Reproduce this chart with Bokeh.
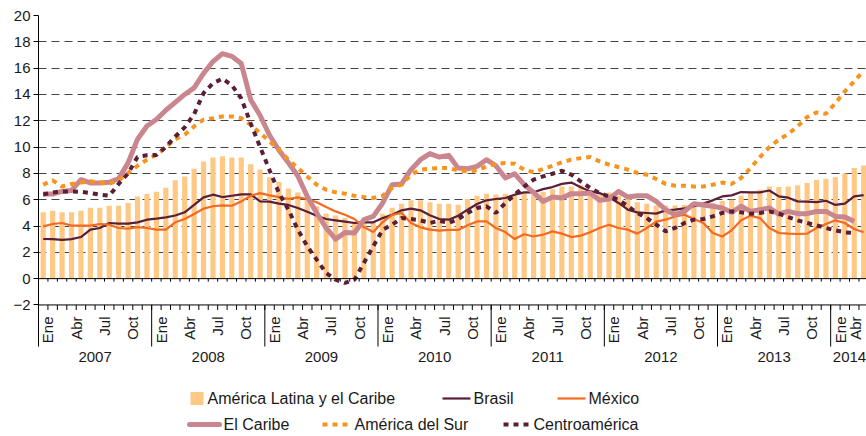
import math
from bokeh.plotting import figure
from bokeh.models import Range1d, FixedTicker, Span, ColumnDataSource
from bokeh.core.properties import value
from bokeh.embed import file_html
from bokeh.resources import INLINE

nan = float("nan")

years = ["2007", "2008", "2009", "2010", "2011", "2012", "2013", "2014"]
month_names = ["Ene", "Feb", "Mar", "Abr", "May", "Jun", "Jul", "Ago", "Sep", "Oct", "Nov", "Dic"]
shown_months = ["Ene", "Abr", "Jul", "Oct"]
n_months = 88  # Ene 2007 .. Abr 2014

america_latina = [
    5.04, 5.16, 5.04, 5.04, 5.16, 5.39, 5.39, 5.54, 5.54, 5.75, 6.25, 6.43,
    6.6, 6.9, 7.47, 7.77, 8.35, 8.9, 9.2, 9.3, 9.2, 9.2, 8.7, 8.3,
    7.7, 7.35, 6.85, 6.55, 6.0, 5.5, 4.95, 4.8, 4.6, 4.35, 4.2, 4.35,
    4.94, 5.39, 5.7, 5.95, 5.95, 5.8, 5.7, 5.7, 5.62, 6.05, 6.3, 6.46,
    6.4, 6.46, 6.3, 6.56, 6.4, 6.6, 6.8, 7.0, 7.0, 7.1, 6.7, 6.5,
    6.55, 6.3, 6.1, 5.8, 5.7, 5.55, 5.55, 5.55, 5.6, 5.8, 5.5, 5.75,
    5.9, 6.0, 6.3, 6.5, 6.76, 7.0, 6.96, 7.0, 7.1, 7.26, 7.5, 7.6,
    7.7, 8.0, 8.4, 8.6,
]
brasil = [
    3.01, 3.0, 2.94, 3.0, 3.16, 3.72, 3.85, 4.23, 4.18, 4.18, 4.28, 4.48,
    4.56, 4.66, 4.8, 5.04, 5.6, 6.18, 6.38, 6.2, 6.3, 6.4, 6.4, 5.87,
    5.85, 5.7, 5.6, 5.37, 5.09, 4.78, 4.53, 4.43, 4.33, 4.23, 4.28, 4.28,
    4.6, 4.86, 5.19, 5.32, 5.19, 4.81, 4.53, 4.48, 4.78, 5.24, 5.67, 5.95,
    6.05, 6.13, 6.38, 6.56, 6.56, 6.8, 6.96, 7.2, 7.3, 6.94, 6.63, 6.5,
    6.18, 5.75, 5.24, 5.04, 4.99, 4.94, 5.19, 5.24, 5.34, 5.5, 5.7, 5.95,
    6.25, 6.33, 6.58, 6.56, 6.56, 6.7, 6.25, 6.15, 5.87, 5.85, 5.82, 5.92,
    5.6, 5.7, 6.25, 6.35,
]
mexico = [
    3.97, 4.15, 4.23, 4.03, 4.03, 4.03, 4.15, 4.1, 3.85, 3.8, 3.92, 3.85,
    3.72, 3.72, 4.28, 4.53, 4.91, 5.32, 5.5, 5.57, 5.54, 5.87, 6.3, 6.5,
    6.33, 6.2, 6.05, 6.18, 6.05, 5.8, 5.44, 5.11, 4.86, 4.53, 3.92, 3.54,
    4.3, 4.84, 4.99, 4.23, 3.9, 3.72, 3.65, 3.7, 3.7, 4.05, 4.35, 4.35,
    3.85, 3.54, 3.01, 3.37, 3.2, 3.34, 3.59, 3.42, 3.16, 3.27, 3.52, 3.85,
    4.1, 3.85, 3.72, 3.42, 3.85, 4.33, 4.48, 4.73, 4.86, 4.53, 4.23, 3.47,
    3.2, 3.67, 4.43, 4.78, 4.6, 3.85, 3.47, 3.42, 3.39, 3.42, 3.85, 4.15,
    4.43, 4.23, 3.77, 3.52,
]
el_caribe = [
    6.43, 6.43, 6.63, 6.7, 7.52, 7.27, 7.27, 7.32, 7.6, 8.8, 10.6, 11.6,
    12.1, 12.8, 13.4, 14.0, 14.5, 15.6, 16.5, 17.1, 16.9, 16.35, 13.6, 12.4,
    10.9, 9.76, 8.8, 7.8, 6.25, 4.99, 3.85, 3.0, 3.5, 3.47, 4.48, 4.73,
    5.75, 7.14, 7.2, 8.28, 9.04, 9.5, 9.24, 9.37, 8.4, 8.35, 8.53, 9.04,
    8.58, 7.65, 7.97, 7.14, 6.56, 5.87, 6.2, 6.13, 6.46, 6.46, 6.5, 5.95,
    6.05, 6.63, 6.2, 6.3, 6.3, 5.87, 5.24, 4.86, 5.11, 5.7, 5.6, 5.5,
    5.37, 5.04, 5.5, 5.11, 5.24, 5.37, 4.91, 5.11, 4.94, 4.94, 5.11, 5.11,
    4.73, 4.68, 4.35, nan,
]
america_del_sur = [
    7.14, 7.47, 7.0, 7.2, 7.3, 7.4, 7.3, 7.2, 7.47, 8.03, 8.58, 9.04,
    9.4, 10.0, 10.6, 10.94, 11.57, 12.08, 12.2, 12.33, 12.33, 12.2, 11.7, 11.06,
    10.43, 9.8, 9.04, 8.4, 7.77, 7.14, 6.76, 6.56, 6.46, 6.3, 6.2, 6.13,
    6.3, 6.9, 7.14, 7.9, 8.28, 8.35, 8.4, 8.4, 8.23, 8.15, 8.23, 8.53,
    8.73, 8.78, 8.73, 8.28, 8.08, 8.33, 8.58, 8.84, 9.04, 9.16, 9.24, 8.91,
    8.66, 8.48, 8.28, 8.03, 7.9, 7.57, 7.2, 7.06, 7.06, 7.0, 7.0, 7.14,
    7.3, 7.2, 7.65, 8.4, 9.24, 10.0, 10.56, 11.0, 11.57, 12.28, 12.63, 12.53,
    13.34, 14.23, 15.0, 15.8,
]
centroamerica = [
    6.4, 6.55, 6.63, 6.63, 6.6, 6.5, 6.38, 6.3, 7.2, 8.0, 9.25, 9.38,
    9.4, 10.0, 10.8, 11.5, 12.5, 14.1, 14.85, 15.2, 14.7, 13.7, 11.8, 10.0,
    8.24, 6.5, 5.24, 3.72, 2.46, 1.44, 0.43, -0.08, -0.33, -0.08, 1.19, 2.46,
    3.72, 4.1, 4.6, 4.53, 4.43, 4.23, 4.4, 4.23, 4.53, 4.99, 5.37, 5.5,
    4.99, 5.75, 6.38, 7.0, 7.52, 7.77, 7.97, 8.2, 7.9, 7.39, 6.89, 6.5,
    6.25, 6.0, 5.5, 4.99, 4.6, 4.1, 3.6, 3.85, 4.23, 4.48, 4.53, 4.73,
    4.99, 5.11, 5.04, 4.94, 4.99, 5.11, 4.94, 4.68, 4.43, 4.23, 4.05, 3.85,
    3.67, 3.52, 3.47, nan,
]

y_ticks = list(range(-2, 21, 2))
grid_ticks = list(range(2, 21, 2))

# colours
C_BAR = "#FFC985"
C_BRASIL = "#5A1E38"
C_MEX = "#F36A21"
C_CAR = "#C9868F"
C_SUR = "#F7941E"
C_CEN = "#5A1E38"
C_TEXT = "#1a1a1a"
FONT = value("Liberation Sans")

X_END = 87.8
Y_START = -12.0
W, H = 866, 436
BL, BT = 38, 15
frame_w = W - BL
frame_h = H - BT
ppx = frame_w / X_END           # pixels per month
ppy = frame_h / (20 - Y_START)  # pixels per unit

def px_x(page_x):  # picture pixel -> data x (layout helper for legend/labels)
    return (page_x - BL) / ppx

def px_y(page_y):
    return 20 - (page_y - BT) / ppy

x_center = [i + 0.5 for i in range(n_months)]
src = ColumnDataSource(dict(x=x_center, alc=america_latina, bra=brasil, mex=mexico,
                            car=el_caribe, sur=america_del_sur, cen=centroamerica))

p = figure(width=W, height=H, output_backend="svg", toolbar_location=None,
           x_range=Range1d(0, X_END), y_range=Range1d(Y_START, 20),
           x_axis_location=None, min_border_left=BL, min_border_right=0,
           min_border_top=BT, min_border_bottom=0, outline_line_color=None,
           background_fill_color="white", border_fill_color="white")

# y axis
ax = p.yaxis[0]
ax.ticker = FixedTicker(ticks=y_ticks)
ax.bounds = (px_y(346), 20)
ax.axis_line_color = "black"
ax.major_tick_out = 5
ax.major_tick_in = 0
ax.minor_tick_line_color = None
ax.major_tick_line_color = "black"
ax.major_label_text_font_size = "15px"
ax.major_label_text_font = "Liberation Sans"
ax.major_label_text_color = C_TEXT
ax.major_label_standoff = 3

p.ygrid.ticker = FixedTicker(ticks=grid_ticks)
p.ygrid.grid_line_color = "#444444"
p.ygrid.grid_line_dash = "8 5"
p.ygrid.grid_line_width = 1
p.xgrid.visible = False

# bars
p.vbar(x="x", top="alc", bottom=0, width=0.55, source=src, fill_color=C_BAR, line_color=None)

# zero line with small ticks
p.add_layout(Span(location=0, dimension="width", line_color="black", line_width=1))
bnd = list(range(1, n_months + 1))
p.segment(x0=bnd, y0=[0] * len(bnd), x1=bnd, y1=[-3 / ppy] * len(bnd), line_color="black", line_width=1)

# bottom axis line at -2 with month ticks
p.segment(x0=[0], y0=[-2], x1=[X_END], y1=[-2], line_color="black", line_width=1)
p.segment(x0=bnd, y0=[-2] * len(bnd), x1=bnd, y1=[-2 - 5 / ppy] * len(bnd), line_color="black", line_width=1)

# year separators
ystarts = list(range(12, n_months, 12))
p.segment(x0=ystarts, y0=[-2] * len(ystarts), x1=ystarts, y1=[px_y(346)] * len(ystarts),
          line_color="black", line_width=1)

# month labels (centred on right boundary of month, kept inside the frame)
ml_x, ml_t = [], []
for i in range(n_months):
    name = month_names[i % 12]
    if name in shown_months:
        ml_x.append(min(i + 1, X_END - 1.15))
        ml_t.append(name)
p.text(x=ml_x, y=[px_y(316)] * len(ml_x), text=ml_t, angle=math.pi / 2,
       text_align="right", text_baseline="middle", text_font=FONT,
       text_font_size="15px", text_color=C_TEXT)

# year labels
yl_x = []
for k, _ in enumerate(years):
    s = 12 * k
    e = min(s + 12, n_months)
    yl_x.append((s + e) / 2)
p.text(x=yl_x, y=[px_y(356)] * len(years), text=years, text_align="center",
       text_baseline="middle", text_font=FONT, text_font_size="15px", text_color=C_TEXT)

# series lines
p.line("x", "bra", source=src, line_color=C_BRASIL, line_width=2.2)
p.line("x", "mex", source=src, line_color=C_MEX, line_width=2.2)
p.line("x", "car", source=src, line_color=C_CAR, line_width=5, line_join="round")
p.line("x", "sur", source=src, line_color=C_SUR, line_width=4, line_dash="5 5")
p.line("x", "cen", source=src, line_color=C_CEN, line_width=4, line_dash="5 5")

# legend (manual, two centred rows)
r1 = px_y(398)
r2 = px_y(424)
p.rect(x=[px_x(196.5)], y=[r1], width=13, height=13, width_units="screen",
       height_units="screen", fill_color=C_BAR, line_color=None)
p.segment(x0=[px_x(442)], y0=[r1], x1=[px_x(470)], y1=[r1], line_color=C_BRASIL, line_width=2.2)
p.segment(x0=[px_x(557)], y0=[r1], x1=[px_x(585)], y1=[r1], line_color=C_MEX, line_width=2.2)
p.segment(x0=[px_x(189)], y0=[r2], x1=[px_x(219)], y1=[r2], line_color=C_CAR, line_width=5, line_cap="round")
p.segment(x0=[px_x(322)], y0=[r2], x1=[px_x(349)], y1=[r2], line_color=C_SUR, line_width=4, line_dash="5 5")
p.segment(x0=[px_x(503)], y0=[r2], x1=[px_x(530)], y1=[r2], line_color=C_CEN, line_width=4, line_dash="5 5")

leg_x = [px_x(207), px_x(473), px_x(588), px_x(223), px_x(354), px_x(533)]
leg_y = [r1, r1, r1, r2, r2, r2]
leg_t = ["América Latina y el Caribe", "Brasil", "México", "El Caribe", "América del Sur", "Centroamérica"]
p.text(x=leg_x, y=leg_y, text=leg_t, text_align="left", text_baseline="middle",
       text_font=FONT, text_font_size="16px", text_color=C_TEXT)

open("out.html", "w").write(file_html(p, INLINE))
